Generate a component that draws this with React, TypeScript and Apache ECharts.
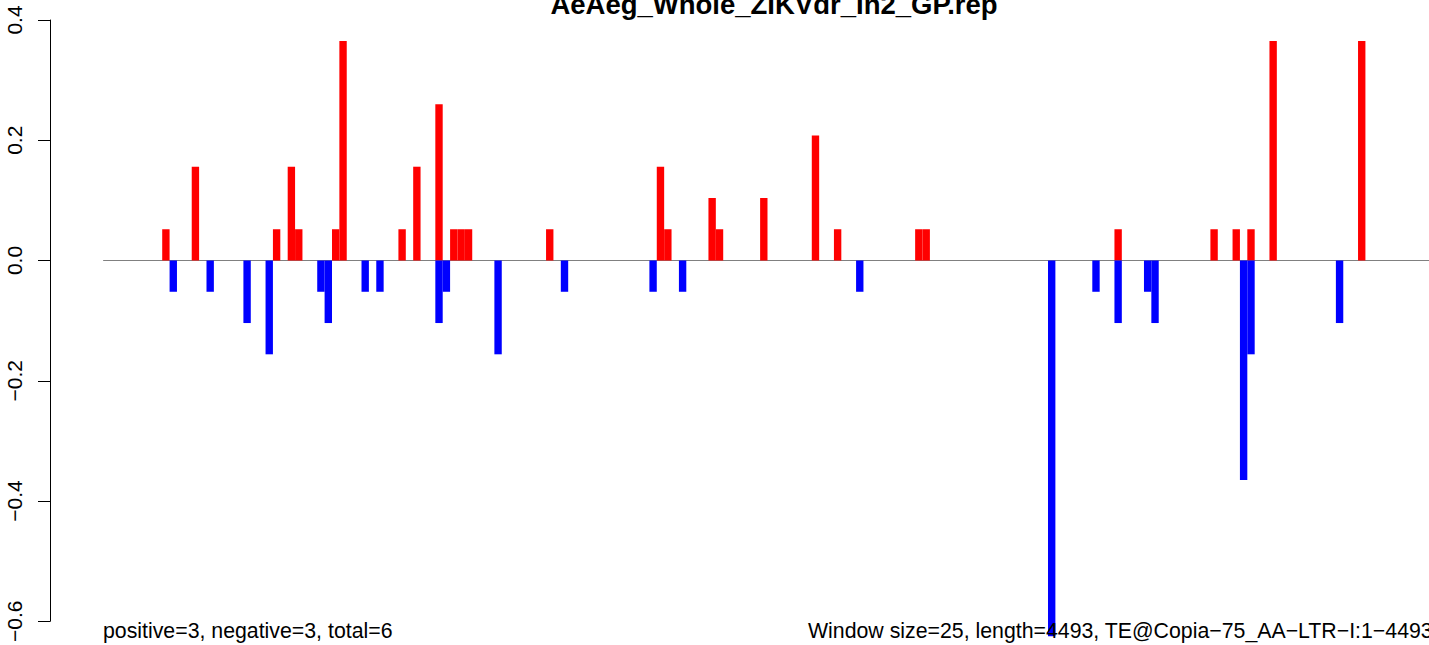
import React, { useEffect, useRef } from "react";
import * as echarts from "echarts";

// window indices (25 bp windows) and their values
const posWindows = [8, 12, 23, 25, 26, 31, 32, 40, 42, 45, 47, 48, 49, 60, 75, 76, 82, 83, 89, 96, 99, 110, 111, 137, 150, 153, 155, 158, 170];
const posValues = [0.052, 0.156, 0.052, 0.156, 0.052, 0.052, 0.365, 0.052, 0.156, 0.26, 0.052, 0.052, 0.052, 0.052, 0.156, 0.052, 0.104, 0.052, 0.104, 0.208, 0.052, 0.052, 0.052, 0.052, 0.052, 0.052, 0.052, 0.365, 0.365];
const negWindows = [9, 14, 19, 22, 29, 30, 35, 37, 45, 46, 53, 62, 74, 78, 102, 128, 134, 137, 141, 142, 154, 155, 167];
const negValues = [-0.052, -0.052, -0.104, -0.156, -0.052, -0.104, -0.052, -0.052, -0.104, -0.052, -0.156, -0.052, -0.052, -0.052, -0.052, -0.625, -0.052, -0.104, -0.052, -0.104, -0.365, -0.156, -0.104];
const windowCount = 180;
const yTicks = { min: -0.6, max: 0.4, step: 0.2 };

const titleText = "AeAeg_Whole_ZIKVdr_In2_GP.rep";
const leftNote = "positive=3, negative=3, total=6";
const rightNote = "Window size=25, length=4493, TE@Copia\u221275_AA\u2212LTR\u2212I:1\u22124493";

const FONT = "'Liberation Sans', Arial, Helvetica, sans-serif";

export default function App() {
  const ref = useRef<HTMLDivElement>(null);
  useEffect(() => {
    const chart = echarts.init(ref.current!, null, { renderer: "svg" });
    const gridLeft = 50;
    const gridW = 1429 - gridLeft;
    const pxPerWindow = 1435 / (windowCount * 1.08);
    const xMin = -0.04 * windowCount;
    const xMax = xMin + gridW / pxPerWindow;
    chart.setOption({
      animation: false,
      backgroundColor: "#ffffff",
      grid: { left: gridLeft, right: 0, top: 20, height: 603, containLabel: false },
      xAxis: {
        type: "value",
        min: xMin,
        max: xMax,
        show: false,
      },
      yAxis: {
        type: "value",
        min: yTicks.min,
        max: yTicks.max,
        interval: yTicks.step,
        splitLine: { show: false },
        axisLine: { show: true, onZero: false, lineStyle: { color: "#000", width: 1 } },
        axisTick: { show: true, length: 12, lineStyle: { color: "#000", width: 1 } },
        axisLabel: {
          rotate: 90,
          margin: 25,
          fontSize: 21,
          color: "#000",
          fontFamily: FONT,
          formatter: (v: number) => (v < -1e-9 ? "\u2212" : "") + Math.abs(v).toFixed(1),
        },
      },
      series: [
        {
          type: "line",
          data: [[0, 0], [windowCount, 0]],
          showSymbol: false,
          symbol: "none",
          lineStyle: { color: "#808080", width: 1 },
          clip: false,
          z: 1,
          silent: true,
        },
        {
          type: "bar",
          data: posWindows.map((w, i) => [w + 0.5, posValues[i]]),
          barWidth: pxPerWindow,
          barGap: "-100%",
          itemStyle: { color: "#ff0000" },
          clip: false,
          z: 2,
        },
        {
          type: "bar",
          data: negWindows.map((w, i) => [w + 0.5, negValues[i]]),
          barWidth: pxPerWindow,
          barGap: "-100%",
          itemStyle: { color: "#0000ff" },
          clip: false,
          z: 2,
        },
      ],
      graphic: [
        {
          type: "text",
          x: 774,
          y: 4,
          z: 100,
          style: {
            text: titleText,
            fill: "#000",
            fontSize: 27.5,
            fontWeight: "bold",
            fontFamily: FONT,
            align: "center",
            verticalAlign: "middle",
          },
        },
        {
          type: "text",
          x: 103,
          y: 631,
          z: 100,
          style: {
            text: leftNote,
            fill: "#000",
            fontSize: 21.3,
            fontFamily: FONT,
            align: "left",
            verticalAlign: "middle",
          },
        },
        {
          type: "text",
          x: 808,
          y: 631,
          z: 100,
          style: {
            text: rightNote,
            fill: "#000",
            fontSize: 21.3,
            fontFamily: FONT,
            align: "left",
            verticalAlign: "middle",
          },
        },
      ],
    });
    return () => chart.dispose();
  }, []);
  return (
    <div
      ref={ref}
      style={{ position: "absolute", left: 0, top: 0, width: 1429, height: 645, background: "#fff" }}
    />
  );
}
